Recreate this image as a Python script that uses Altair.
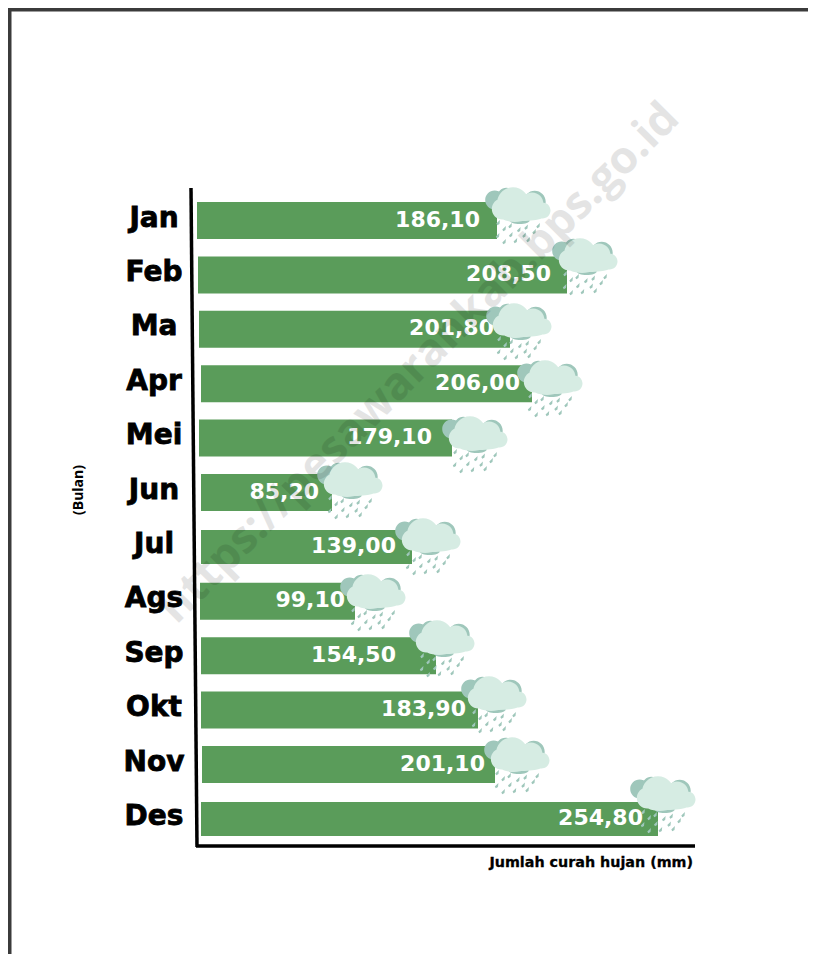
import altair as alt
import pandas as pd

bulan = ["Jan", "Feb", "Ma", "Apr", "Mei", "Jun", "Jul", "Ags", "Sep", "Okt", "Nov", "Des"]
nilai = [186.10, 208.50, 201.80, 206.00, 179.10, 85.20, 139.00, 99.10, 154.50, 183.90, 201.10, 254.80]
bar_awal = [189, 190, 191, 193, 191, 193, 193, 192, 193, 193, 194, 193]
bar_akhir = [489, 559, 502, 524, 444, 324, 404, 347, 428, 470, 487, 650]
bar_tebal = [37, 37, 37, 37, 37, 37, 34, 37, 37, 37, 37, 34]
label_x = [472, 543, 486, 512, 424, 311, 388, 337, 388, 458, 477, 635]
awan_x = [510, 577, 511, 542, 467, 342, 420, 365, 434, 486, 509, 655]
awan_y = [197, 248, 313, 370, 426, 472, 528, 584, 630, 686, 747, 786]

W, H = 800, 946
U = 50.0


def circle(cx, cy, r, ry=None):
    ry = r if ry is None else ry
    cx, cy, r, ry = cx / U, cy / U, r / U, ry / U
    return (f"M{cx - r:.4f},{cy:.4f}A{r:.4f},{ry:.4f} 0 1,1 {cx + r:.4f},{cy:.4f}"
            f"A{r:.4f},{ry:.4f} 0 1,1 {cx - r:.4f},{cy:.4f}Z")


def drop(x, y):
    p = [(x + 1.9, y - 3), (x + 1.5, y + 0.9), (x - 0.7, y + 2.2), (x - 1.7, y + 0.6)]
    return "M" + "L".join(f"{a / U:.4f},{b / U:.4f}" for a, b in p) + "Z"


awan_depan = "".join([
    circle(-5, -1.7, 16), circle(-15.7, 4, 10.5), circle(14, -1, 11.5), circle(24.5, 5.5, 8),
    circle(5, 7, 27, 9), circle(-3, 9, 16, 8),
])
awan_belakang = "".join([
    circle(-23.3, -5, 9.5), circle(-11.7, -8.3, 9), circle(16.7, -3.3, 11), circle(1.7, 15.5, 10, 3.5),
])
hujan = "".join(drop(a, b) for a, b in [
    (-20, 18), (-14, 24), (-8, 21), (0.7, 25), (8, 22.5), (16, 27), (-7.3, 30), (6, 30.5),
    (-14, 37), (-2.7, 36), (10, 35), (-20.5, 31), (20, 21),
])

df = pd.DataFrame({
    "bulan": bulan, "nilai": nilai, "awal": bar_awal, "akhir": bar_akhir, "tebal": bar_tebal,
    "lx": label_x, "ax": awan_x, "ay": awan_y,
})
df["teks"] = [f"{v:.2f}".replace(".", ",") for v in nilai]

x_s = alt.Scale(domain=[0, W], range=[0, W])
y_s = alt.Scale(domain=bulan, type="point", range=[212.5, 810.9], padding=0)
y_q = alt.Scale(domain=[0, H], range=[0, H])
X = alt.X("awal:Q", scale=x_s, axis=None)
Y = alt.Y("bulan:N", scale=y_s, axis=None)
base = alt.Chart(df)

bars = base.mark_bar(color="#5a9c5a").encode(
    x=X, x2="akhir:Q", y=Y, size=alt.Size("tebal:Q", scale=None, legend=None))
vals = base.mark_text(font="DejaVu Sans", fontWeight=700, fontSize=22, color="white", align="right", dy=-1).encode(
    x=alt.X("lx:Q", scale=x_s, axis=None), y=Y, text="teks:N")
cats = base.mark_text(font="DejaVu Sans", fontWeight=700, fontSize=28, color="black", stroke="black", strokeWidth=0.8,
                      align="center", dy=-2).encode(x=alt.value(146), y=Y, text="bulan:N")


def cloud(path, color):
    return base.mark_point(shape=path, filled=True, color=color, opacity=1, strokeWidth=0, size=10000).encode(
        x=alt.X("ax:Q", scale=x_s, axis=None),
        y=alt.Y("ay:Q", scale=y_q, axis=None),
    )


rain = cloud(hujan, "#9fc7bb")
back = cloud(awan_belakang, "#9fc7bb")
front = cloud(awan_depan, "#d6ece3")

rule_src = alt.Chart(pd.DataFrame({"k": [0]}))
sumbu_y = rule_src.mark_rule(color="black", strokeWidth=3.5).encode(
    x=alt.value(183), x2=alt.value(189), y=alt.value(180), y2=alt.value(839))
sumbu_x = rule_src.mark_rule(color="black", strokeWidth=3.5).encode(
    x=alt.value(188), x2=alt.value(687), y=alt.value(838))
bingkai_kiri = rule_src.mark_rule(color="#3b3b3b", strokeWidth=7).encode(
    x=alt.value(0), y=alt.value(0), y2=alt.value(H))
bingkai_atas = rule_src.mark_rule(color="#3b3b3b", strokeWidth=7).encode(
    x=alt.value(0), x2=alt.value(W), y=alt.value(0))


def note(txt, px, py, **kw):
    return alt.Chart(pd.DataFrame({"t": [txt]})).mark_text(**kw).encode(
        x=alt.value(px), y=alt.value(py), text="t:N")


judul_x = note("Jumlah curah hujan (mm)", 685, 855, font="DejaVu Sans", fontWeight=700, fontSize=14.3, align="right",
               stroke="black", strokeWidth=0.3)
judul_y = note("(Bulan)", 71, 482, font="Open Sans", fontWeight=700, fontSize=14, angle=270, align="center")
watermark = note("https://pesawarankab.bps.go.id", 411, 355, font="Open Sans", fontWeight=700, fontSize=45,
                 angle=315, align="center", baseline="middle", color="black", opacity=0.1)

chart = alt.layer(
    bingkai_kiri, bingkai_atas, bars, rain, vals, back, front, sumbu_y, sumbu_x, cats, judul_x, judul_y, watermark
).resolve_scale(y="independent").properties(
    width=W, height=H, padding=0, autosize=alt.AutoSizeParams(type="none")
).configure_view(stroke=None).configure(background="white")

chart.save("out.html", embed_options={"renderer": "svg", "actions": False})
